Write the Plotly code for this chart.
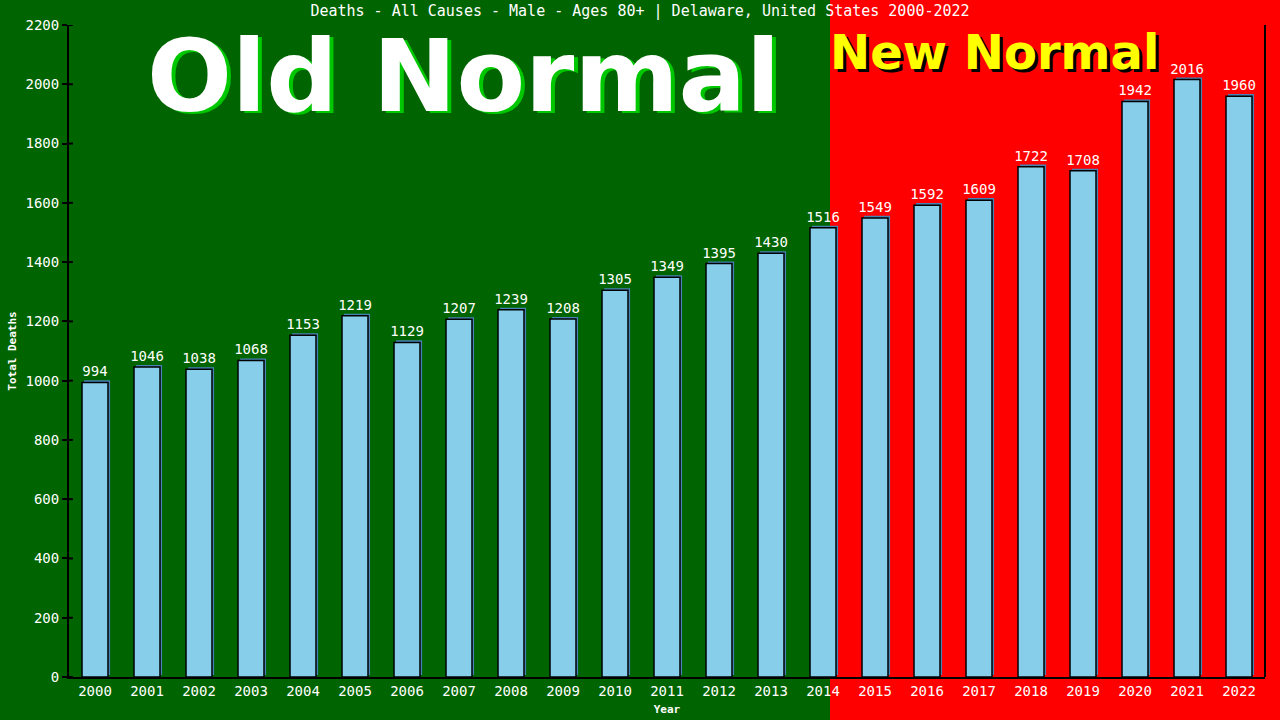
import plotly.graph_objects as go

years = list(range(2000, 2023))
deaths = [994, 1046, 1038, 1068, 1153, 1219, 1129, 1207, 1239, 1208, 1305, 1349,
          1395, 1430, 1516, 1549, 1592, 1609, 1722, 1708, 1942, 2016, 1960]
y_ticks = list(range(0, 2201, 200))
title = "Deaths - All Causes - Male - Ages 80+ | Delaware, United States 2000-2022"

MONO = "DejaVu Sans Mono"
GREEN = "#006400"
RED = "#ff0000"

L, R, T, B = 69, 15, 25, 43
PW, PH = 1280 - L - R, 720 - T - B


def px(x):
    return (x - L) / PW


def py(y):
    return (720 - B - y) / PH


fig = go.Figure()
# shadow bars
fig.add_trace(go.Bar(
    x=years, y=deaths, base=7, width=0.5, offset=-0.21,
    marker=dict(color="#4682B4", line=dict(width=0)),
    hoverinfo="skip", showlegend=False,
))
# main bars
fig.add_trace(go.Bar(
    x=years, y=deaths, width=0.5, offset=-0.25,
    marker=dict(color="#87CEEB", line=dict(color="black", width=1.5)),
    text=[str(v) for v in deaths], textposition="outside",
    textfont=dict(family=MONO, size=14, color="white"),
    constraintext="none", cliponaxis=False, showlegend=False,
))
# invisible trace for the right-hand axis
fig.add_trace(go.Scatter(x=[years[0]], y=[0], yaxis="y2", mode="markers",
                         marker=dict(opacity=0), hoverinfo="skip", showlegend=False))

fig.update_layout(
    width=1280, height=720,
    margin=dict(l=L, r=R, t=T, b=B, autoexpand=False),
    paper_bgcolor=GREEN, plot_bgcolor="rgba(0,0,0,0)",
    barmode="overlay",
    font=dict(family=MONO, color="white"),
    title=dict(text=title, x=0.5, xanchor="center", xref="container",
               y=1 - 11 / 720, yanchor="middle", yref="container",
               font=dict(family=MONO, size=15, color="white")),
    xaxis=dict(range=[1999.5, 2022.5], tickmode="array", tickvals=years,
               ticktext=[str(y) for y in years], showgrid=False, zeroline=False,
               showline=True, linecolor="black", linewidth=2, automargin=False,
               ticks="", tickfont=dict(family=MONO, size=14, color="white"),
               title=dict(text="<b>Year</b>", font=dict(family=MONO, size=11, color="white"),
                          standoff=8)),
    yaxis=dict(range=[0, 2200], tickmode="array", tickvals=y_ticks, automargin=False,
               showgrid=False, zeroline=False, showline=True, linecolor="black",
               linewidth=2, ticks="outside", ticklen=5, tickcolor="black", tickwidth=2,
               tickfont=dict(family=MONO, size=14, color="white"),
               title=dict(text="<b>Total Deaths</b>", font=dict(family=MONO, size=11, color="white"),
                          standoff=7)),
    yaxis2=dict(range=[0, 2200], overlaying="y", side="right", tickmode="array",
                tickvals=y_ticks, showticklabels=False, showgrid=False, zeroline=False,
                showline=True, linecolor="black", linewidth=2, anchor="free", position=1.0,
                ticks="", automargin=False),
    shapes=[
        dict(type="rect", xref="paper", yref="paper", x0=px(830), x1=1.1,
             y0=-0.2, y1=1.2, fillcolor=RED, line=dict(width=0), layer="below"),
    ] + [
        dict(type="line", xref="paper", yref="y", x0=0, x1=4 / PW, y0=t, y1=t,
             line=dict(color="black", width=2))
        for t in y_ticks
    ],
    annotations=[
        dict(text="<b>Old Normal</b>", xref="paper", yref="paper",
             x=px(463), y=py(76), xanchor="center", yanchor="middle",
             showarrow=False,
             font=dict(family="DejaVu Sans", size=100, color="white",
                       shadow="4px 2px 0px #00c800")),
        dict(text="<b>New Normal</b>", xref="paper", yref="paper",
             x=px(994), y=py(52), xanchor="center", yanchor="middle",
             showarrow=False,
             font=dict(family="DejaVu Sans", size=48, color="yellow",
                       shadow="3px 3px 0px black")),
    ],
)

fig.write_html("out.html", config={"displayModeBar": False},
               post_script="document.body.style.margin='0';")
